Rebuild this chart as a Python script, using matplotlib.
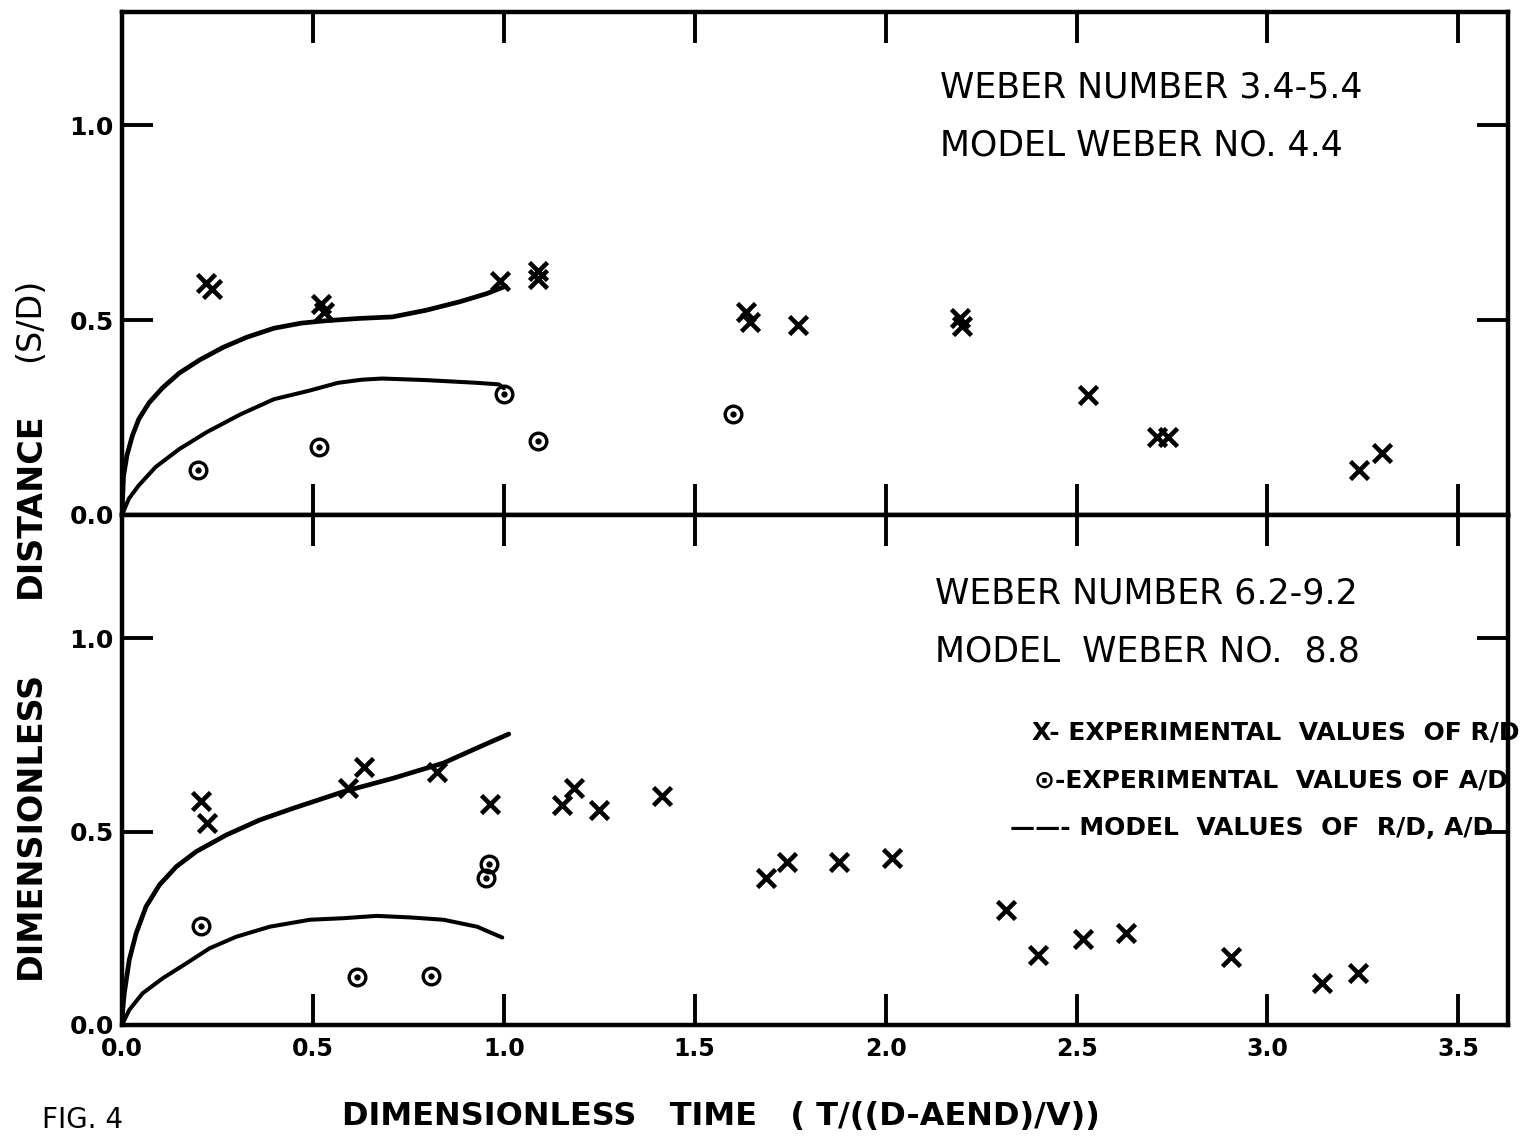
import matplotlib
matplotlib.use("Agg")
import matplotlib.pyplot as plt

# ---------------- data ----------------
x_ticks = [0.0, 0.5, 1.0, 1.5, 2.0, 2.5, 3.0, 3.5]
x_tick_labels = ["0.0", "0.5", "1.0", "1.5", "2.0", "2.5", "3.0", "3.5"]
y_ticks = [0.0, 0.5, 1.0]
y_tick_labels = ["0.0", "0.5", "1.0"]

# top panel (Weber 3.4-5.4)
top_rd_x = [0.22, 0.235, 0.52, 0.53, 0.99, 1.09, 1.09, 1.635, 1.645, 1.77,
            2.195, 2.20, 2.53, 2.71, 2.74, 3.24, 3.30]
top_rd_y = [0.595, 0.58, 0.54, 0.52, 0.60, 0.625, 0.605, 0.52, 0.495, 0.487,
            0.505, 0.485, 0.308, 0.20, 0.20, 0.115, 0.16]
top_ad_x = [0.20, 0.515, 1.0, 1.09, 1.60]
top_ad_y = [0.115, 0.175, 0.31, 0.19, 0.26]

top_model_rd_x = [0, 0.002, 0.004, 0.013, 0.027, 0.044, 0.071, 0.106, 0.15, 0.204,
                  0.265, 0.327, 0.398, 0.469, 0.531, 0.619, 0.708, 0.796, 0.885,
                  0.956, 1.005]
top_model_rd_y = [0, 0.05, 0.10, 0.153, 0.203, 0.246, 0.288, 0.326, 0.364, 0.398,
                  0.43, 0.456, 0.479, 0.492, 0.498, 0.504, 0.508, 0.525, 0.547,
                  0.568, 0.587]
top_model_ad_x = [0, 0.018, 0.044, 0.088, 0.15, 0.221, 0.31, 0.398, 0.487, 0.566,
                  0.628, 0.681, 0.796, 0.929, 0.987, 1.0]
top_model_ad_y = [0, 0.042, 0.076, 0.123, 0.169, 0.212, 0.258, 0.297, 0.318, 0.339,
                  0.347, 0.35, 0.346, 0.339, 0.335, 0.325]

# bottom panel (Weber 6.2-9.2)
bot_rd_x = [0.207, 0.223, 0.593, 0.635, 0.826, 0.965, 1.153, 1.184, 1.248, 1.413,
            1.687, 1.742, 1.878, 2.016, 2.316, 2.40, 2.517, 2.63, 2.905, 3.142, 3.236]
bot_rd_y = [0.579, 0.522, 0.612, 0.668, 0.655, 0.572, 0.568, 0.612, 0.555, 0.592,
            0.38, 0.422, 0.421, 0.431, 0.297, 0.181, 0.222, 0.237, 0.177, 0.108, 0.134]
bot_ad_x = [0.206, 0.615, 0.81, 0.962, 0.954]
bot_ad_y = [0.256, 0.124, 0.127, 0.415, 0.38]

bot_model_rd_x = [0, 0.002, 0.006, 0.019, 0.037, 0.063, 0.098, 0.142, 0.194, 0.273,
                  0.361, 0.448, 0.58, 0.711, 0.842, 0.93, 1.013]
bot_model_rd_y = [0, 0.04, 0.082, 0.168, 0.237, 0.306, 0.362, 0.409, 0.448, 0.491,
                  0.53, 0.56, 0.603, 0.638, 0.677, 0.716, 0.752]
bot_model_ad_x = [0, 0.019, 0.054, 0.107, 0.168, 0.229, 0.299, 0.387, 0.492, 0.58,
                  0.667, 0.755, 0.842, 0.93, 0.996]
bot_model_ad_y = [0, 0.039, 0.082, 0.121, 0.159, 0.198, 0.228, 0.254, 0.272, 0.276,
                  0.282, 0.278, 0.272, 0.254, 0.226]

top_text = ["WEBER NUMBER 3.4-5.4", "MODEL WEBER NO. 4.4"]
bot_text = ["WEBER NUMBER 6.2-9.2", "MODEL  WEBER NO.  8.8"]
legend_text = ["X- EXPERIMENTAL  VALUES  OF R/D",
               "\u2299-EXPERIMENTAL  VALUES OF A/D",
               "\u2014\u2014- MODEL  VALUES  OF  R/D, A/D"]

# ---------------- figure ----------------
W, H = 1526, 1142
fig = plt.figure(figsize=(W / 100, H / 100), dpi=100)
fig.patch.set_facecolor("white")

def fx(px):
    return px / W

def fy(py):
    return 1 - py / H

left, right = 122, 1508
ax_top = fig.add_axes([fx(left), fy(515), fx(right) - fx(left), fy(12) - fy(515)])
ax_bot = fig.add_axes([fx(left), fy(1025), fx(right) - fx(left), fy(515) - fy(1025)])

XMAX = 3.63
for ax, ytop in ((ax_top, 1.29), (ax_bot, 1.318)):
    ax.set_xlim(0, XMAX)
    ax.set_ylim(0, ytop)
    for s in ax.spines.values():
        s.set_linewidth(3.2)
        s.set_color("black")
    ax.set_xticks(x_ticks)
    ax.set_yticks(y_ticks)
    ax.tick_params(axis="both", direction="in", length=22, width=2.8,
                   top=True, right=True, color="black")

ax_top.set_xticklabels([])
ax_top.set_yticklabels(y_tick_labels, fontsize=18, fontweight="bold")
ax_bot.set_yticklabels(y_tick_labels, fontsize=18, fontweight="bold")
ax_bot.set_xticklabels(x_tick_labels, fontsize=17, fontweight="bold")
ax_bot.tick_params(axis="x", pad=9)
ax_top.tick_params(axis="y", pad=6)
ax_bot.tick_params(axis="y", pad=6)

def draw(ax, rdx, rdy, adx, ady, mrx, mry, max_, may):
    ax.plot(mrx, mry, color="black", lw=3.4, solid_capstyle="round",
            solid_joinstyle="round")
    ax.plot(max_, may, color="black", lw=2.9, solid_capstyle="round",
            solid_joinstyle="round")
    ax.plot(rdx, rdy, linestyle="none", marker="x", ms=13, mew=3.3, color="black")
    ax.plot(adx, ady, linestyle="none", marker="o", ms=12, mew=2.4,
            mfc="none", mec="black")
    ax.plot(adx, ady, linestyle="none", marker="o", ms=3.5, color="black")

draw(ax_top, top_rd_x, top_rd_y, top_ad_x, top_ad_y,
     top_model_rd_x, top_model_rd_y, top_model_ad_x, top_model_ad_y)
draw(ax_bot, bot_rd_x, bot_rd_y, bot_ad_x, bot_ad_y,
     bot_model_rd_x, bot_model_rd_y, bot_model_ad_x, bot_model_ad_y)

# panel annotations
fig.text(fx(940), fy(88), top_text[0], fontsize=25, va="center", ha="left")
fig.text(fx(940), fy(145), top_text[1], fontsize=25, va="center", ha="left")
fig.text(fx(935), fy(593), bot_text[0], fontsize=25, va="center", ha="left")
fig.text(fx(935), fy(651), bot_text[1], fontsize=25, va="center", ha="left")

# legend text
fig.text(fx(1520), fy(733), legend_text[0], fontsize=18, fontweight="bold",
         va="center", ha="right")
fig.text(fx(1508), fy(780), legend_text[1], fontsize=18, fontweight="bold",
         va="center", ha="right")
fig.text(fx(1493), fy(828), legend_text[2], fontsize=18, fontweight="bold",
         va="center", ha="right")

# y label pieces
fig.text(fx(30), fy(825), "DIMENSIONLESS", rotation=90, fontsize=24,
         fontweight="bold", va="center", ha="center")
fig.text(fx(30), fy(505), "DISTANCE", rotation=90, fontsize=24,
         fontweight="bold", va="center", ha="center")
fig.text(fx(30), fy(320), "(S/D)", rotation=90, fontsize=24,
         va="center", ha="center")

# x label and figure number
fig.text(fx(342), fy(1117), "DIMENSIONLESS   TIME   ( T/((D-AEND)/V))",
         fontsize=23, fontweight="bold", va="center", ha="left")
fig.text(fx(42), fy(1120), "FIG. 4", fontsize=20, va="center", ha="left")

fig.savefig("out.png", dpi=100, facecolor="white")
